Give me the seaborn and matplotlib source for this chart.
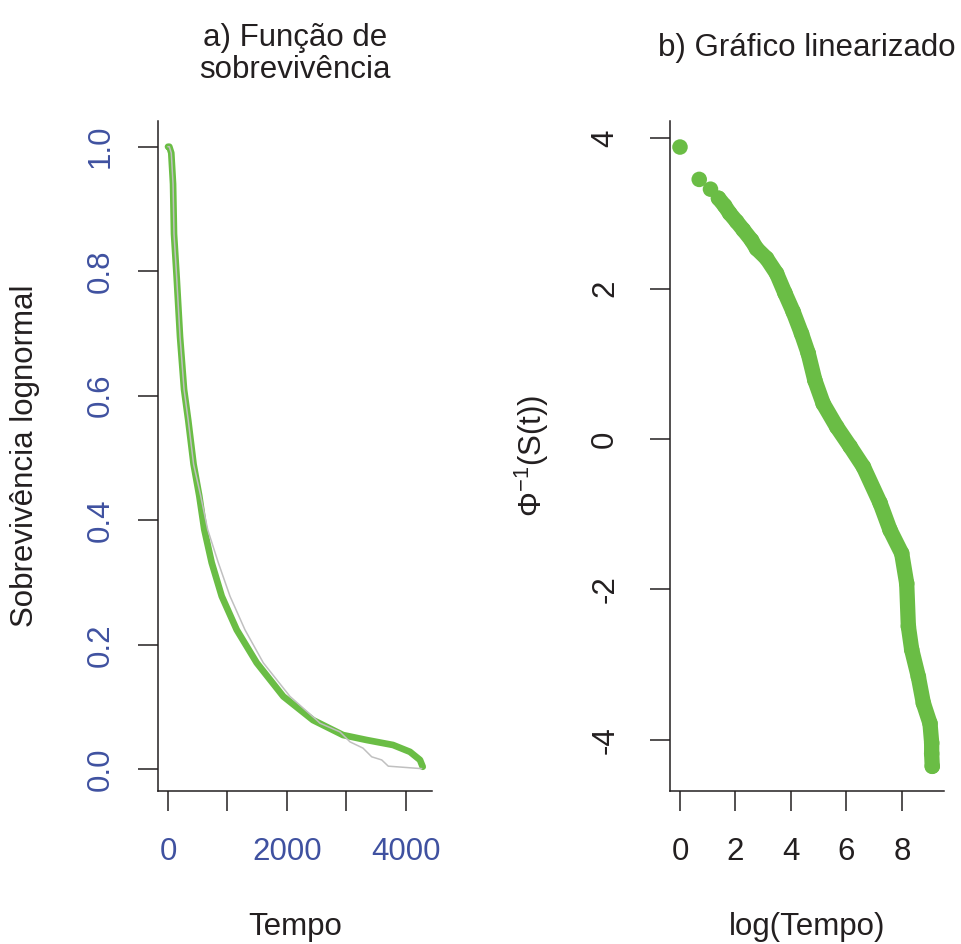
import matplotlib
matplotlib.use("Agg")
import matplotlib.pyplot as plt
import seaborn as sns

# ---------------- data ----------------
# Panel a) lognormal survival fit (thick green) and empirical curve (thin gray)
tempo_lognormal = [0, 22, 55, 85, 101, 146, 202, 270, 341, 430, 526, 610, 734, 903,
                   1155, 1491, 1938, 2437, 2941, 3339, 3782, 4067, 4235, 4281]
sobrev_lognormal = [1.0, 1.0, 0.99, 0.94, 0.86, 0.79, 0.695, 0.61, 0.56, 0.49, 0.439,
                    0.385, 0.332, 0.278, 0.224, 0.171, 0.117, 0.079, 0.055, 0.047,
                    0.039, 0.028, 0.015, 0.004]
tempo_empirico = [0, 22, 55, 85, 101, 146, 202, 270, 341, 430, 550, 667, 845, 1042,
                  1294, 1602, 2050, 2499, 2555, 2891, 3059, 3277, 3424, 3592, 3702, 4264]
sobrev_empirico = [1.0, 1.0, 0.99, 0.94, 0.86, 0.79, 0.695, 0.61, 0.56, 0.49, 0.439,
                   0.385, 0.332, 0.278, 0.224, 0.171, 0.117, 0.079, 0.074, 0.060,
                   0.044, 0.034, 0.020, 0.015, 0.005, 0.001]

# Panel b) linearised plot
log_tempo = [0.0, 0.693, 1.099, 1.386, 1.609, 1.79, 2.04, 2.28, 2.58, 2.76, 3.12, 3.48,
             3.78, 4.08, 4.38, 4.62, 4.86, 5.16, 5.65, 6.13, 6.61, 7.21, 7.57, 7.99,
             8.17, 8.23, 8.35, 8.59, 8.77, 9.01, 9.07, 9.07, 9.09]
phi_inv_s = [3.88, 3.45, 3.32, 3.20, 3.10, 3.0, 2.89, 2.78, 2.64, 2.53, 2.40, 2.20,
             1.94, 1.69, 1.40, 1.14, 0.78, 0.47, 0.16, -0.10, -0.37, -0.85, -1.21,
             -1.52, -1.92, -2.49, -2.80, -3.16, -3.51, -3.78, -4.04, -4.18, -4.35]

# ticks / labels
x_ticks_a = [0, 1000, 2000, 3000, 4000]
x_labels_a = ["0", "", "2000", "", "4000"]
y_ticks_a = [0.0, 0.2, 0.4, 0.6, 0.8, 1.0]
y_labels_a = ["0.0", "0.2", "0.4", "0.6", "0.8", "1.0"]
x_ticks_b = [0, 2, 4, 6, 8]
x_labels_b = ["0", "2", "4", "6", "8"]
y_ticks_b = [-4, -2, 0, 2, 4]
y_labels_b = ["-4", "-2", "0", "2", "4"]

# ---------------- styling ----------------
sns.set_style("ticks")
plt.rcParams['font.family'] = ['Liberation Sans', 'DejaVu Sans']
plt.rcParams['mathtext.fontset'] = 'custom'
plt.rcParams['mathtext.rm'] = 'Liberation Sans'
plt.rcParams['mathtext.it'] = 'Liberation Sans:italic'
plt.rcParams['mathtext.bf'] = 'Liberation Sans:bold'

GREEN = '#6abd45'
GRAY = '#c0c0c0'
BLUE = '#3f51a0'
INK = '#231f20'
FS = 22.5

W, H = 962, 944
fig = plt.figure(figsize=(W / 100, H / 100), dpi=100)
ax1 = fig.add_axes([158 / W, 1 - 791 / H, 274 / W, 670 / H])
ax2 = fig.add_axes([670 / W, 1 - 791 / H, 274 / W, 670 / H])

# ---- panel a ----
sns.lineplot(x=tempo_lognormal, y=sobrev_lognormal, ax=ax1, color=GREEN, linewidth=4.8,
             sort=False, estimator=None, solid_capstyle='round', solid_joinstyle='round',
             zorder=2)
sns.lineplot(x=tempo_empirico, y=sobrev_empirico, ax=ax1, color=GRAY, linewidth=1.1,
             sort=False, estimator=None, zorder=3)
ax1.set_xlim(-168, 4437)
ax1.set_ylim(-0.0349, 1.0413)
ax1.set_xticks(x_ticks_a)
ax1.set_xticklabels(x_labels_a)
ax1.set_yticks(y_ticks_a)
ax1.set_yticklabels(y_labels_a)

# ---- panel b ----
sns.lineplot(x=log_tempo[3:], y=phi_inv_s[3:], ax=ax2, color=GREEN, linewidth=11,
             sort=False, estimator=None, solid_capstyle='round', solid_joinstyle='round')
sns.scatterplot(x=log_tempo, y=phi_inv_s, ax=ax2, color=GREEN, s=125, linewidth=0,
                edgecolor='none')
ax2.set_xlim(-0.36, 9.514)
ax2.set_ylim(-4.678, 4.226)
ax2.set_xticks(x_ticks_b)
ax2.set_xticklabels(x_labels_b)
ax2.set_yticks(y_ticks_b)
ax2.set_yticklabels(y_labels_b)

for ax in (ax1, ax2):
    sns.despine(ax=ax)
    for s in ('left', 'bottom'):
        ax.spines[s].set_linewidth(1.1)
        ax.spines[s].set_color(INK)
    ax.tick_params(axis='both', direction='out', length=14.4, width=1.1, color=INK,
                   labelsize=FS)
    ax.tick_params(axis='x', pad=19)
    ax.tick_params(axis='y', labelrotation=90)
    for lab in ax.get_yticklabels():
        lab.set_va('center')

ax1.tick_params(axis='both', labelcolor=BLUE)
ax1.tick_params(axis='y', pad=16)
ax2.tick_params(axis='both', labelcolor=INK)
ax2.tick_params(axis='y', pad=21.5)

# axis labels
ax1.set_xlabel("Tempo", fontsize=FS, color=INK, va='baseline')
ax1.xaxis.set_label_coords(0.5, (791 - 935) / 670)
ax2.set_xlabel("log(Tempo)", fontsize=FS, color=INK, va='baseline')
ax2.xaxis.set_label_coords(0.5, (791 - 935) / 670)
ax1.set_ylabel("Sobrevivência lognormal", fontsize=FS, color=INK, va='center')
ax1.yaxis.set_label_coords((25 - 158) / 274, 0.5)
ax2.set_ylabel(r"Φ$^{-1}$(S(t))", fontsize=FS, color=INK, va='center')
ax2.yaxis.set_label_coords((532 - 670) / 274, 0.5)

# titles
ax1.text(0.5, (791 - 54) / 670, "a) Função de\nsobrevivência", transform=ax1.transAxes,
         ha='center', va='center', fontsize=FS, color=INK, linespacing=1.12)
ax2.text(0.5, (791 - 56) / 670, "b) Gráfico linearizado", transform=ax2.transAxes,
         ha='center', va='baseline', fontsize=FS, color=INK)

fig.savefig("out.png", dpi=100)
